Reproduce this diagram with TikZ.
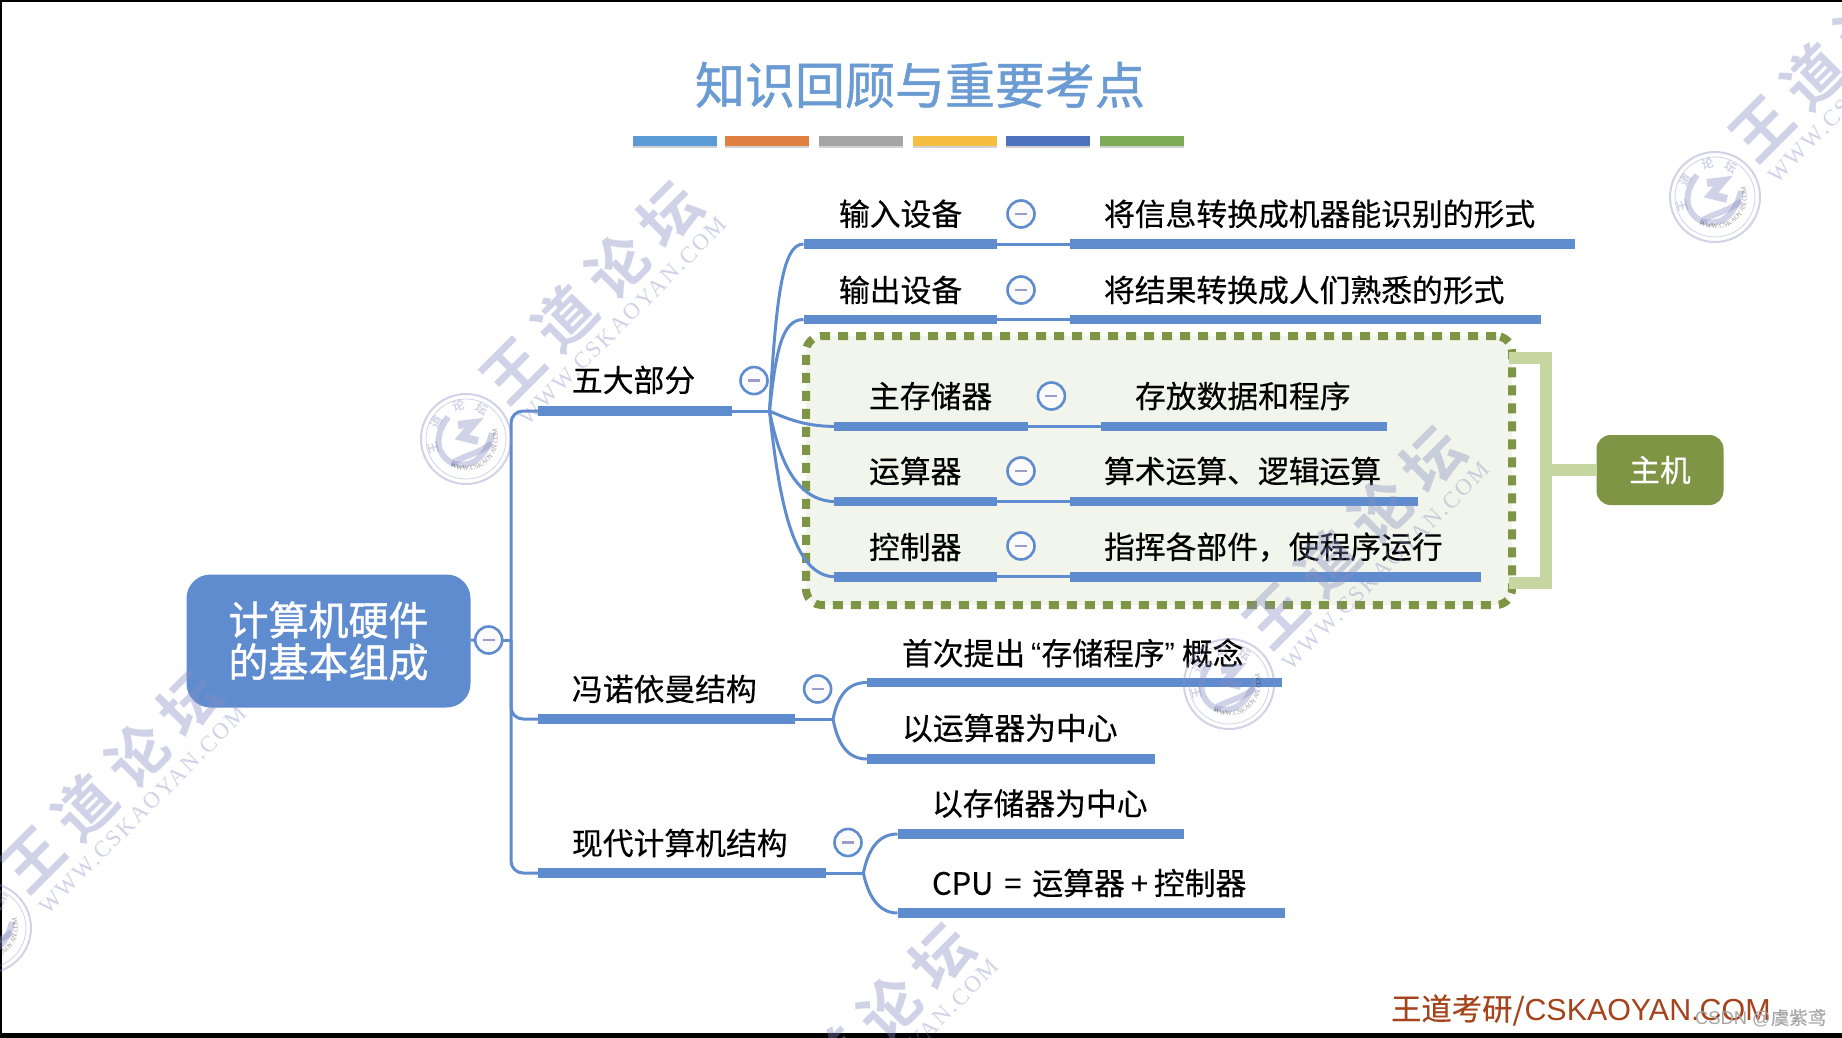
\documentclass[tikz,border=0pt]{standalone}
\usepackage{fontspec}
\setmainfont[FakeBold=0.4]{Noto Sans CJK SC}
\newfontfamily\latinfont{Liberation Sans}
\newfontfamily\titlefont[FakeBold=1]{Noto Sans CJK SC}
\newfontfamily\wmfont[LetterSpace=23]{Noto Sans CJK SC Bold}
\newfontfamily\wmlatin[LetterSpace=9]{Liberation Serif}
\newfontfamily\sealfont{Noto Sans CJK SC Bold}
\usepackage{xcolor}
\usepackage{tikz}
\usetikzlibrary{shadows,decorations.text}

\definecolor{mapblue}{HTML}{5F8CCF}
\definecolor{minusc}{HTML}{9A9CCB}
\definecolor{oliv}{HTML}{7F9546}
\definecolor{palegreen}{HTML}{C5D6A0}
\definecolor{boxfill}{HTML}{F2F5EB}
\definecolor{titleblue}{HTML}{6A9BD3}
\definecolor{wmc}{HTML}{868CC0}
\definecolor{rust}{HTML}{A5431B}

% watermark: seal plus rotated text, #1 #2 = seal centre
\newcommand{\wmark}[2]{%
  \begin{scope}[shift={(#1,#2)},y=0.5pt,opacity=.38,wmc]
    \draw[line width=1pt] (0,0) circle (45);
    \draw[line width=.4pt] (0,0) circle (40);
    \draw[line width=3pt] (-18,22) .. controls (-34,0) and (-28,-16) .. (-14,-24)
        .. controls (0,-16) and (14,-14) .. (26,-4);
    \draw[line width=3pt] (-14,-24) .. controls (4,-30) and (20,-20) .. (26,6);
    \draw[line width=4pt] (-8,14) -- (8,16) -- (-4,2) -- (12,-2);
    \foreach \ang/\ch in {195/王,150/道,103/论,62/坛}
      \node[font=\sealfont\fontsize{6pt}{6pt}\selectfont,rotate=\ang-90] at (\ang:34) {\ch};
    \path[decorate,decoration={text along path,text align=center,
        text={|\fontsize{3.5pt}{3.5pt}\selectfont\wmlatin|WWW.CSKAOYAN.COM}}]
        (-120:32) arc[start angle=-120,end angle=20,radius=32];
    \node[font=\wmfont\fontsize{30pt}{30pt}\selectfont,rotate=45] at (125,147) {王道论坛};
    \node[font=\wmlatin\fontsize{11.5pt}{11.5pt}\selectfont,rotate=45] at (157,118) {WWW.CSKAOYAN.COM};
  \end{scope}}

\begin{document}
\begin{tikzpicture}[
    x=0.5pt, y=-0.5pt,
    every node/.style={font=\fontsize{15.4pt}{15.4pt}\selectfont,inner sep=0pt,outer sep=0pt},
    bar/.style={fill=mapblue,minimum width=#1*0.5pt,minimum height=4.7pt,anchor=west},
    tab/.style={minimum width=42pt,minimum height=5pt,
                drop shadow={shadow xshift=0pt,shadow yshift=-1pt,opacity=.35}},
    lbl/.style={anchor=west},
    fold/.style={circle,draw=mapblue,line width=1.3pt,fill=white!96!minusc,minimum size=13.5pt,
                 execute at begin node={\textcolor{minusc}{\rule{6pt}{1.3pt}}}},
    link/.style={mapblue,line width=1.5pt},
    brack/.style={palegreen,line width=6pt}
]
\useasboundingbox (0,0) rectangle (1842,1038);
\clip (0,0) rectangle (1842,1038);

% Slide frame
\fill[white] (0,0) rectangle (1842,1038);
\fill[black] (0,0) rectangle (1842,2);
\fill[black] (0,0) rectangle (1.5,1038);
\fill[black] (0,1033) rectangle (1842,1038);

% Title
\node[font=\titlefont\fontsize{25pt}{25pt}\selectfont,text=titleblue] (title) at (920,85) {知识回顾与重要考点};
\foreach \cx/\col/\nm in {675/5B9BD5/A,766.5/E08040/B,861/A5A5A5/C,955/F5BE40/D,1047.5/4D72BE/E,1142/7DAA55/F}{
  \definecolor{tabc}{HTML}{\col}
  \node[tab,fill=tabc] (tab\nm) at (\cx,141) {};
}

% Dotted host box
\node[draw=oliv,fill=boxfill,line width=4pt,dash pattern=on 5pt off 4pt,rounded corners=8pt,
      minimum width=353pt,minimum height=134.5pt] (hostbox) at (1159,470.5) {};

% Root
\node[fill=mapblue,rounded corners=12pt,minimum width=142pt,minimum height=66.5pt,
      text=white,align=center,font=\titlefont\fontsize{20pt}{21pt}\selectfont] (root) at (328.5,641)
    {计算机硬件\\的基本组成};
\node[fold] (rootf) at (488.7,640) {};
\coordinate (trunk) at (511,640);
\draw[link] (root) -- (rootf);
\draw[link] (rootf) -- (trunk);

% Five parts
\node[bar=194] (five) at (538,411) {};
\node[lbl] (fivet) at (572,380) {五大部分};
\node[fold] (fivef) at (754,380.6) {};
\coordinate (fivej) at (769.5,411);
\draw[link,rounded corners=6pt] (trunk) |- (five.west);
\draw[link] (five) -- (fivej);

% Input
\node[bar=193.5] (inl) at (803.5,244) {};
\node[bar=505] (inr) at (1070,244) {};
\node[lbl] (int) at (839,213.8) {输入设备};
\node[fold] (inf) at (1021,214) {};
\node[lbl] (ind) at (1104,213.8) {将信息转换成机器能识别的形式};
\draw[link] (inl) -- (inr);
\draw[link] (fivej) .. controls (776,300) and (782,244) .. (inl.west);

% Output
\node[bar=193.5] (outl) at (803.5,319.5) {};
\node[bar=471] (outr) at (1070,319.5) {};
\node[lbl] (outt) at (839,290) {输出设备};
\node[fold] (outf) at (1021,290) {};
\node[lbl] (outd) at (1104,290) {将结果转换成人们熟悉的形式};
\draw[link] (outl) -- (outr);
\draw[link] (fivej) .. controls (776,350) and (782,319.5) .. (outl.west);

% Memory
\node[bar=194] (meml) at (834,426.4) {};
\node[bar=286.5] (memr) at (1100.7,426.4) {};
\node[lbl] (memt) at (869,396) {主存储器};
\node[fold] (memf) at (1051.4,396) {};
\node[lbl] (memd) at (1135,396) {存放数据和程序};
\draw[link] (meml) -- (memr);
\draw[link] (fivej) .. controls (785,418) and (805,426.4) .. (meml.west);

% ALU
\node[bar=163] (alul) at (834,501.6) {};
\node[bar=348] (alur) at (1070,501.6) {};
\node[lbl] (alut) at (869,471) {运算器};
\node[fold] (aluf) at (1021,471) {};
\node[lbl] (alud) at (1104,471) {算术运算、逻辑运算};
\draw[link] (alul) -- (alur);
\draw[link] (fivej) .. controls (780,465) and (798,500) .. (alul.west);

% Control
\node[bar=163] (ctll) at (834,576.8) {};
\node[bar=411] (ctlr) at (1070,576.8) {};
\node[lbl] (ctlt) at (869,547) {控制器};
\node[fold] (ctlf) at (1021,546) {};
\node[lbl] (ctld) at (1104,547) {指挥各部件^^^^ff0c使程序运行};
\draw[link] (ctll) -- (ctlr);
\draw[link] (fivej) .. controls (780,510) and (795,575) .. (ctll.west);

% Host bracket
\coordinate (brA) at (1509,358);
\coordinate (brB) at (1546,358);
\coordinate (brC) at (1546,583);
\coordinate (brD) at (1509,583);
\node[fill=oliv,rounded corners=7pt,minimum width=63.5pt,minimum height=35pt,text=white] (host) at (1660,470) {主机};
\draw[brack] (brA) -- (brB) -- (brC) -- (brD);
\draw[brack] (brB |- host) -- (host.west);

% Von Neumann
\node[bar=257] (von) at (538,719) {};
\node[lbl] (vont) at (572,689) {冯诺依曼结构};
\node[fold] (vonf) at (817.6,689) {};
\coordinate (vonj) at (833,719);
\draw[link,rounded corners=6pt] (trunk) |- (von.west);
\draw[link] (von) -- (vonj);
\node[bar=414.6] (vona) at (867,682.5) {};
\node[lbl] (vonat) at (902,653) {首次提出\hspace{3pt}{\latinfont “}存储程序{\latinfont ”}\hspace{3.5pt}概念};
\node[bar=288] (vonb) at (867,759) {};
\node[lbl] (vonbt) at (902,728) {以运算器为中心};
\draw[link] (vonj) .. controls (838,695) and (848,682.5) .. (vona.west);
\draw[link] (vonj) .. controls (838,745) and (848,759) .. (vonb.west);

% Modern
\node[bar=288] (mod) at (538,873) {};
\node[lbl] (modt) at (572,843) {现代计算机结构};
\node[fold] (modf) at (848,842.5) {};
\coordinate (modj) at (863.4,873);
\draw[link,rounded corners=6pt] (trunk) |- (mod.west);
\draw[link] (mod) -- (modj);
\node[bar=286.5] (moda) at (897.5,834) {};
\node[lbl] (modat) at (932,803.5) {以存储器为中心};
\node[bar=387.5] (modb) at (897.5,913) {};
\node[lbl] (modbt) at (932,883) {CPU\hspace{5.5pt}=\hspace{5.5pt}运算器\hspace{3pt}+\hspace{3pt}控制器};
\draw[link] (modj) .. controls (868,850) and (878,834) .. (moda.west);
\draw[link] (modj) .. controls (868,895) and (878,913) .. (modb.west);

% Watermarks
\wmark{466}{439}
\wmark{1715}{197}
\wmark{1229}{684}
\wmark{-14}{928}
\wmark{738}{1181}

% Footer
\node[anchor=west,text=rust,font=\fontsize{15.2pt}{15.2pt}\selectfont] (foot) at (1391,1010)
    {王道考研/{\latinfont CSKAOYAN.COM}};
\node[anchor=west,text=black!35,font=\fontsize{9.2pt}{9.2pt}\selectfont] (csdn) at (1695,1018)
    {{\latinfont CSDN @}虞紫鸢};
\end{tikzpicture}
\end{document}
